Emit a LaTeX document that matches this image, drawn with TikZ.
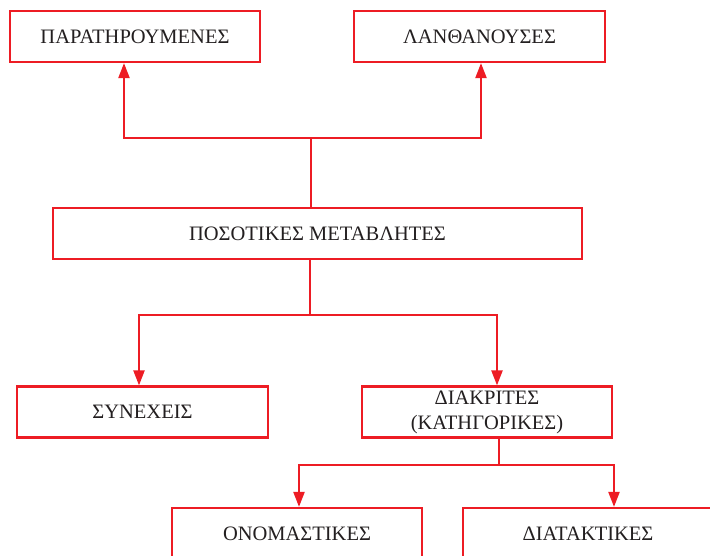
\documentclass[tikz,border=0pt]{standalone}
\usepackage{fontspec}
\setmainfont{Liberation Serif}
\usetikzlibrary{arrows.meta}
\definecolor{boxred}{RGB}{237,28,36}
\definecolor{txt}{RGB}{35,31,32}
\begin{document}
\begin{tikzpicture}[x=1pt,y=-1pt,
  box/.style={draw=boxred,line width=2.2pt,rectangle,minimum width=250pt,minimum height=51pt,
    inner sep=0pt,text=txt,font=\fontsize{20.5}{25}\selectfont,align=center},
  link/.style={draw=boxred,line width=2.2pt,line join=miter},
  arr/.style={link,-{Triangle[length=15pt,width=11pt]}}]
\useasboundingbox (0,0) rectangle (710,556);
\clip (0,0) rectangle (710,556);
\fill[white] (0,0) rectangle (710,556);
\node[box] (b1) at (135,36.5) {ΠΑΡΑΤΗΡΟΥΜΕΝΕΣ};
\node[box,minimum width=251pt] (b2) at (479.5,36.5) {ΛΑΝΘΑΝΟΥΣΕΣ};
\node[box,minimum width=529pt] (b3) at (317.5,233.5) {ΠΟΣΟΤΙΚΕΣ ΜΕΤΑΒΛΗΤΕΣ};
\node[box,minimum width=251pt] (b4) at (142.5,412) {ΣΥΝΕΧΕΙΣ};
\node[box] (b5) at (487,412) {ΔΙΑΚΡΙΤΕΣ\\(ΚΑΤΗΓΟΡΙΚΕΣ)};
\node[box] (b6) at (297,533.5) {ΟΝΟΜΑΣΤΙΚΕΣ};
\node[box] (b7) at (588,533.5) {ΔΙΑΤΑΚΤΙΚΕΣ};
% junctions
\coordinate (j1) at (311,138);
\coordinate (l1) at (124,138);
\coordinate (r1) at (481,138);
\coordinate (j2) at (310,315);
\coordinate (l2) at (139,315);
\coordinate (r2) at (497,315);
\coordinate (j3) at (499,465);
\coordinate (l3) at (299,465);
\coordinate (r3) at (614,465);
% connectors
\draw[link] (b3.north -| j1) -- (j1);
\draw[arr] (j1) -| (b1.south -| l1);
\draw[arr] (j1) -| (b2.south -| r1);
\draw[link] (b3.south -| j2) -- (j2);
\draw[arr] (j2) -| (b4.north -| l2);
\draw[arr] (j2) -| (b5.north -| r2);
\draw[link] (b5.south -| j3) -- (j3);
\draw[arr] (j3) -| (b6.north -| l3);
\draw[arr] (j3) -| (b7.north -| r3);
\end{tikzpicture}
\end{document}
